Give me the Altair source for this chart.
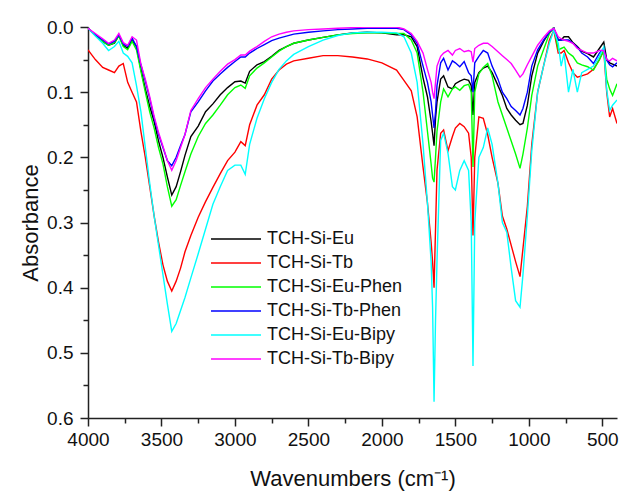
import altair as alt
import pandas as pd

FONT = "Liberation Sans"

wavenumber = [4000, 3950, 3900, 3860, 3820, 3790, 3760, 3730, 3700, 3670,
              3640, 3610, 3580, 3550, 3520, 3490, 3460, 3430, 3400, 3370,
              3340, 3300, 3250, 3200, 3150, 3100, 3050, 3000, 2960, 2930,
              2900, 2850, 2800, 2750, 2700, 2650, 2600, 2500, 2400, 2300,
              2200, 2100, 2000, 1900, 1850, 1800, 1760, 1720, 1690, 1665,
              1655, 1645, 1635, 1625, 1600, 1580, 1550, 1520, 1500, 1470,
              1440, 1410, 1392, 1380, 1368, 1340, 1310, 1280, 1250, 1210,
              1180, 1150, 1120, 1090, 1060, 1040, 1010, 980, 940, 900,
              860, 830, 800, 780, 760, 730, 700, 670, 640, 600,
              560, 520, 490, 470, 450, 430, 400]

tch_si_eu = [0.002, 0.013, 0.022, 0.028, 0.025, 0.013, 0.028, 0.033, 0.020, 0.030,
             0.065, 0.095, 0.122, 0.145, 0.175, 0.200, 0.230, 0.258, 0.245, 0.222,
             0.197, 0.168, 0.152, 0.130, 0.118, 0.104, 0.093, 0.084, 0.083, 0.086,
             0.068, 0.058, 0.053, 0.045, 0.036, 0.030, 0.025, 0.020, 0.016, 0.012,
             0.009, 0.008, 0.009, 0.012, 0.012, 0.015, 0.030, 0.078, 0.107, 0.145,
             0.163, 0.182, 0.140, 0.115, 0.080, 0.075, 0.092, 0.095, 0.087, 0.083,
             0.080, 0.082, 0.090, 0.135, 0.085, 0.070, 0.063, 0.060, 0.070, 0.090,
             0.105, 0.125, 0.135, 0.143, 0.150, 0.148, 0.120, 0.075, 0.040, 0.022,
             0.008, 0.002, 0.020, 0.020, 0.015, 0.015, 0.024, 0.030, 0.037, 0.041,
             0.046, 0.033, 0.023, 0.050, 0.055, 0.057, 0.060]

tch_si_tb = [0.035, 0.050, 0.062, 0.066, 0.070, 0.060, 0.056, 0.085, 0.100, 0.115,
             0.160, 0.200, 0.245, 0.290, 0.330, 0.365, 0.390, 0.405, 0.390, 0.370,
             0.345, 0.320, 0.292, 0.268, 0.246, 0.225, 0.205, 0.192, 0.176, 0.182,
             0.150, 0.120, 0.104, 0.080, 0.066, 0.057, 0.052, 0.048, 0.044, 0.044,
             0.046, 0.049, 0.055, 0.066, 0.082, 0.098, 0.138, 0.215, 0.270, 0.330,
             0.360, 0.400, 0.310, 0.220, 0.163, 0.158, 0.190, 0.168, 0.155, 0.148,
             0.153, 0.163, 0.200, 0.320, 0.200, 0.138, 0.140, 0.165, 0.200, 0.240,
             0.290, 0.310, 0.335, 0.360, 0.383, 0.340, 0.275, 0.180, 0.100, 0.060,
             0.020, 0.005, 0.040, 0.040, 0.036, 0.055, 0.070, 0.077, 0.075, 0.072,
             0.065, 0.050, 0.036, 0.100, 0.138, 0.125, 0.148]

tch_si_eu_phen = [0.002, 0.012, 0.022, 0.028, 0.024, 0.014, 0.030, 0.035, 0.022, 0.035,
                  0.068, 0.100, 0.130, 0.155, 0.185, 0.210, 0.245, 0.275, 0.265, 0.243,
                  0.222, 0.195, 0.168, 0.148, 0.135, 0.120, 0.104, 0.093, 0.089, 0.094,
                  0.075, 0.063, 0.055, 0.046, 0.037, 0.030, 0.025, 0.020, 0.016, 0.012,
                  0.010, 0.009, 0.009, 0.010, 0.010, 0.020, 0.040, 0.100, 0.160, 0.210,
                  0.232, 0.238, 0.200, 0.160, 0.115, 0.095, 0.107, 0.095, 0.092, 0.097,
                  0.090, 0.088, 0.100, 0.215, 0.100, 0.072, 0.062, 0.056, 0.075, 0.115,
                  0.135, 0.155, 0.175, 0.195, 0.217, 0.195, 0.155, 0.105, 0.060, 0.035,
                  0.010, 0.000, 0.035, 0.033, 0.031, 0.040, 0.045, 0.055, 0.058, 0.061,
                  0.066, 0.050, 0.036, 0.080, 0.095, 0.105, 0.087]

tch_si_tb_phen = [0.002, 0.012, 0.020, 0.026, 0.022, 0.012, 0.026, 0.030, 0.017, 0.030,
                  0.058, 0.083, 0.110, 0.140, 0.165, 0.185, 0.205, 0.213, 0.200, 0.182,
                  0.165, 0.130, 0.115, 0.098, 0.083, 0.072, 0.062, 0.053, 0.046, 0.046,
                  0.040, 0.033, 0.027, 0.021, 0.017, 0.014, 0.011, 0.008, 0.006, 0.004,
                  0.003, 0.002, 0.002, 0.002, 0.004, 0.012, 0.025, 0.060, 0.085, 0.115,
                  0.135, 0.155, 0.130, 0.090, 0.055, 0.048, 0.066, 0.052, 0.055, 0.061,
                  0.053, 0.070, 0.075, 0.100, 0.055, 0.045, 0.036, 0.040, 0.060, 0.080,
                  0.100, 0.110, 0.122, 0.128, 0.135, 0.125, 0.100, 0.060, 0.035, 0.020,
                  0.008, 0.002, 0.020, 0.020, 0.020, 0.020, 0.025, 0.031, 0.040, 0.046,
                  0.056, 0.040, 0.033, 0.051, 0.058, 0.061, 0.055]

tch_si_eu_bipy = [0.002, 0.014, 0.025, 0.036, 0.030, 0.022, 0.040, 0.045, 0.055, 0.090,
                  0.130, 0.185, 0.240, 0.290, 0.335, 0.380, 0.425, 0.467, 0.455, 0.435,
                  0.415, 0.385, 0.348, 0.310, 0.272, 0.245, 0.220, 0.212, 0.212, 0.226,
                  0.180, 0.140, 0.110, 0.085, 0.065, 0.052, 0.042, 0.030, 0.020, 0.013,
                  0.009, 0.008, 0.008, 0.009, 0.015, 0.040, 0.085, 0.180, 0.270, 0.360,
                  0.430, 0.575, 0.450, 0.360, 0.174, 0.163, 0.194, 0.245, 0.250, 0.220,
                  0.205, 0.220, 0.300, 0.520, 0.300, 0.200, 0.185, 0.155, 0.180, 0.240,
                  0.300, 0.315, 0.370, 0.420, 0.430, 0.380, 0.290, 0.190, 0.100, 0.060,
                  0.025, 0.005, 0.025, 0.060, 0.040, 0.100, 0.065, 0.100, 0.070, 0.065,
                  0.060, 0.045, 0.031, 0.097, 0.128, 0.120, 0.112]

tch_si_tb_bipy = [0.002, 0.010, 0.018, 0.025, 0.020, 0.010, 0.024, 0.028, 0.015, 0.020,
                  0.057, 0.080, 0.107, 0.137, 0.162, 0.183, 0.205, 0.220, 0.205, 0.185,
                  0.165, 0.128, 0.110, 0.093, 0.080, 0.068, 0.057, 0.050, 0.043, 0.043,
                  0.037, 0.030, 0.022, 0.015, 0.011, 0.008, 0.006, 0.004, 0.003, 0.002,
                  0.001, 0.000, 0.000, 0.000, 0.003, 0.010, 0.022, 0.040, 0.065, 0.085,
                  0.100, 0.110, 0.085, 0.060, 0.045, 0.040, 0.036, 0.043, 0.036, 0.033,
                  0.038, 0.036, 0.038, 0.054, 0.033, 0.028, 0.025, 0.025, 0.030, 0.038,
                  0.044, 0.050, 0.056, 0.066, 0.077, 0.072, 0.058, 0.045, 0.028, 0.016,
                  0.006, 0.002, 0.015, 0.018, 0.020, 0.022, 0.025, 0.033, 0.036, 0.040,
                  0.040, 0.036, 0.036, 0.050, 0.052, 0.048, 0.052]

series_names = ["TCH-Si-Eu", "TCH-Si-Tb", "TCH-Si-Eu-Phen",
                "TCH-Si-Tb-Phen", "TCH-Si-Eu-Bipy", "TCH-Si-Tb-Bipy"]
series_colors = ["#000000", "#FF0000", "#00FF00", "#0000FF", "#00FFFF", "#FF00FF"]
series_values = [tch_si_eu, tch_si_tb, tch_si_eu_phen,
                 tch_si_tb_phen, tch_si_eu_bipy, tch_si_tb_bipy]

x_tick_values = [4000, 3750, 3500, 3250, 3000, 2750, 2500, 2250, 2000,
                 1750, 1500, 1250, 1000, 750, 500]
y_tick_values = [0.0, 0.05, 0.1, 0.15, 0.2, 0.25, 0.3, 0.35, 0.4,
                 0.45, 0.5, 0.55, 0.6]

rows = []
for name, vals in zip(series_names, series_values):
    for w, v in zip(wavenumber, vals):
        rows.append({"series": name, "wn": w, "absorbance": v})
df = pd.DataFrame(rows)

x_major = "datum.value % 500 == 0"
y_major = "round(datum.value * 100) % 10 == 0"

chart = alt.Chart(df).mark_line(strokeWidth=1.4, clip=True).encode(
    x=alt.X("wn:Q",
            scale=alt.Scale(domain=[4000, 400], nice=False, zero=False),
            axis=alt.Axis(values=x_tick_values, title="Wavenumbers (cm⁻¹)",
                          labelExpr=f"{x_major} ? format(datum.value, 'd') : ''",
                          tickSize={"condition": {"test": x_major, "value": 8}, "value": 5},
                          labelFlush=False, labelOverlap=False, grid=False,
                          labelPadding=4, titlePadding=19)),
    y=alt.Y("absorbance:Q",
            scale=alt.Scale(domain=[0, 0.6], reverse=True, nice=False, zero=False),
            axis=alt.Axis(values=y_tick_values, title="Absorbance",
                          labelExpr=f"{y_major} ? format(datum.value, '.1f') : ''",
                          tickSize={"condition": {"test": y_major, "value": 8}, "value": 5},
                          labelFlush=False, labelOverlap=False, grid=False,
                          labelPadding=7, titlePadding=4)),
    color=alt.Color("series:N",
                    scale=alt.Scale(domain=series_names, range=series_colors),
                    legend=alt.Legend(title=None, orient="none", legendX=122, legendY=200,
                                      direction="vertical", symbolType="stroke",
                                      symbolSize=2500, symbolStrokeWidth=1.5,
                                      clipHeight=24, rowPadding=0, labelOffset=5,
                                      labelFontSize=18, labelFont=FONT, labelColor="#111111",
                                      padding=0, labelLimit=400)),
    order=alt.Order("wn:Q"),
).properties(
    width=529, height=391,
    background="white",
    autosize=alt.AutoSizeParams(type="none"),
    padding={"left": 88, "top": 27, "right": 5, "bottom": 76},
).configure_view(stroke=None).configure_axis(
    labelFont=FONT, titleFont=FONT, labelFontSize=19, titleFontSize=22,
    labelColor="#111111", titleColor="#111111", titleFontWeight="normal",
    domainColor="#222222", tickColor="#222222", domainWidth=1.5, tickWidth=1.5,
)

chart.save("out.html", embed_options={"renderer": "svg", "actions": False})
